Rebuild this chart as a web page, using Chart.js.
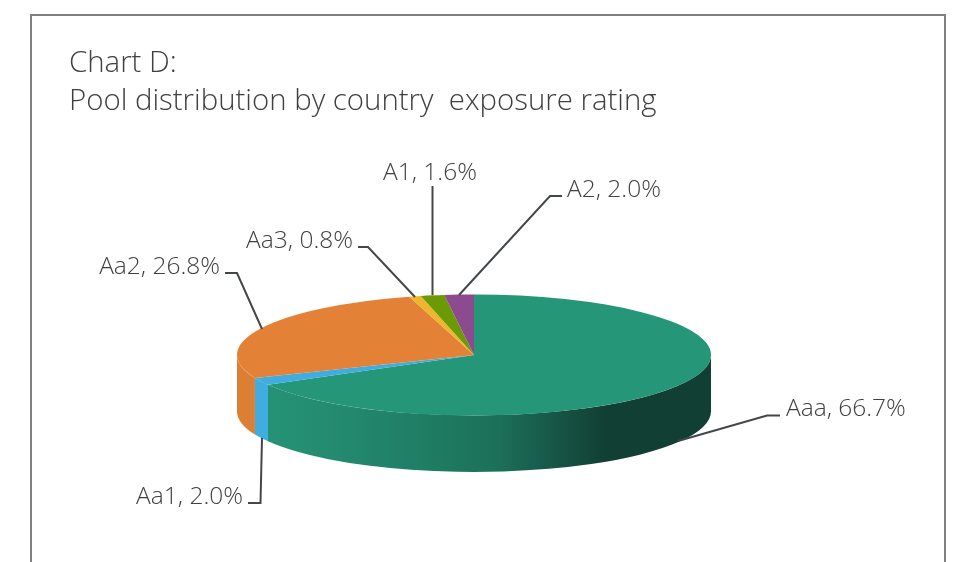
<!DOCTYPE html>
<html>
<head>
<meta charset="utf-8">
<title>Chart D</title>
<script src="https://cdn.jsdelivr.net/npm/chart.js@4"></script>
<style>
html, body { margin: 0; padding: 0; background: #fff; overflow: hidden; }
#wrap { position: relative; width: 955px; height: 562px; overflow: hidden; }
#frame { position: absolute; left: 30px; top: 14px; width: 912px; height: 600px; border: 2px solid #808080; box-sizing: content-box; }
canvas { position: absolute; left: 0; top: 0; }
</style>
</head>
<body>
<div id="wrap">
<div id="frame"></div>
<canvas id="poolChart" width="955" height="562"></canvas>
</div>
<script>
const titleLines = ['Chart D:', 'Pool distribution by country  exposure rating'];
const ratings = ['Aaa', 'Aa1', 'Aa2', 'Aa3', 'A1', 'A2'];
const shares = [66.7, 2.0, 26.8, 0.8, 1.6, 2.0];
const topColors = ['#259678', '#3fade0', '#e38137', '#eeb52f', '#6c9a05', '#8b4b8e'];
const wallColors = [null, '#3fade0', '#db7f35', '#eeb52f', '#6c9a05', '#8b4b8e'];

// leader line points and text anchor for each label, same order as ratings
const leaders = [
  { pts: [[678, 441], [767, 415.5], [780, 415.5]], x: 786, y: 416, align: 'left' },
  { pts: [[262, 438], [260.5, 503], [248, 503]], x: 243, y: 504, align: 'right' },
  { pts: [[262, 329], [237, 273], [225, 273]], x: 220, y: 274, align: 'right' },
  { pts: [[415, 297], [368, 247], [358, 247]], x: 353, y: 248, align: 'right' },
  { pts: [[432.5, 295], [432.5, 186]], x: 430, y: 180, align: 'center' },
  { pts: [[459, 295], [550, 196], [562, 196]], x: 567, y: 197, align: 'left' }
];

const squash = 60.5 / 237;
const depth = 56.5;

const pie3d = {
  id: 'pie3d',
  beforeDatasetsDraw(chart) {
    const ctx = chart.ctx;
    const arcs = chart.getDatasetMeta(0).data;
    const cx = arcs[0].x, cy = arcs[0].y, r = arcs[0].outerRadius;
    const ry = r * squash;

    // side wall, only the front half of each slice shows
    arcs.forEach((arc, i) => {
      const a0 = Math.max(arc.startAngle, 0);
      const a1 = Math.min(arc.endAngle, Math.PI);
      if (a1 <= a0) return;
      let fill = wallColors[i];
      if (!fill) {
        fill = ctx.createLinearGradient(cx - r, 0, cx + r, 0);
        fill.addColorStop(0, '#259678');
        fill.addColorStop(0.2, '#248b70');
        fill.addColorStop(0.4, '#1f7d64');
        fill.addColorStop(0.55, '#1c7059');
        fill.addColorStop(0.68, '#175445');
        fill.addColorStop(0.78, '#113f33');
        fill.addColorStop(1, '#113f33');
      }
      ctx.beginPath();
      ctx.ellipse(cx, cy, r, ry, 0, a0, a1);
      ctx.ellipse(cx, cy + depth, r, ry, 0, a1, a0, true);
      ctx.closePath();
      ctx.fillStyle = fill;
      ctx.fill();
    });

    // top face: library arcs drawn through a flattened transform
    ctx.save();
    ctx.translate(cx, cy);
    ctx.scale(1, squash);
    ctx.translate(-cx, -cy);
  },
  afterDatasetsDraw(chart) {
    chart.ctx.restore();
  },
  afterDraw(chart) {
    const ctx = chart.ctx;
    ctx.save();
    ctx.lineWidth = 2;
    ctx.strokeStyle = '#44474a';
    ctx.fillStyle = '#404040';
    ctx.font = '300 24.5px "Open Sans"';
    ctx.textBaseline = 'alphabetic';
    leaders.forEach((l, i) => {
      ctx.beginPath();
      l.pts.forEach((p, j) => j ? ctx.lineTo(p[0], p[1]) : ctx.moveTo(p[0], p[1]));
      ctx.stroke();
      ctx.textAlign = l.align;
      ctx.fillText(ratings[i] + ', ' + shares[i].toFixed(1) + '%', l.x, l.y);
    });
    ctx.restore();
  }
};

new Chart(document.getElementById('poolChart'), {
  type: 'pie',
  data: {
    labels: ratings,
    datasets: [{
      data: shares,
      backgroundColor: topColors,
      borderWidth: 0,
      radius: 237,
      clip: false
    }]
  },
  options: {
    responsive: false,
    animation: false,
    layout: { padding: { left: 69, right: 76, top: 45, bottom: 0 } },
    plugins: {
      legend: { display: false },
      tooltip: { enabled: false },
      title: {
        display: true,
        text: titleLines,
        align: 'start',
        color: '#404040',
        font: { family: '"Open Sans"', weight: '300', size: 29.4, lineHeight: 1.29 },
        padding: { top: 0, bottom: 27 }
      }
    }
  },
  plugins: [pie3d]
});
</script>
</body>
</html>
